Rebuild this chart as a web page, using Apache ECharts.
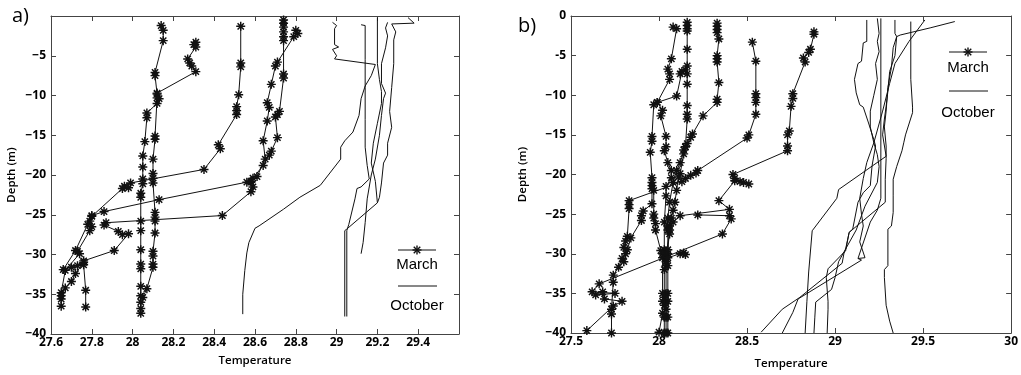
<!DOCTYPE html>
<html><head><meta charset="utf-8">
<script src="https://cdn.jsdelivr.net/npm/echarts@6/dist/echarts.min.js"></script>
<style>html,body{margin:0;padding:0;background:#fff}#c{width:1021px;height:375px}</style>
</head><body><div id="c"></div>
<script>
// ---------- Panel a : March profiles [temperature, depth] ----------
const marchA1 = [[28.14,-1.2],[28.15,-1.8],[28.15,-3.1],[28.11,-7.1],[28.11,-7.5],[28.12,-9.8],[28.13,-10.4],[28.12,-11.0],[28.07,-12.2],[28.07,-12.8],[28.06,-15.8],[28.05,-17.6],[28.05,-19.0],[28.05,-20.5],[28.05,-21.1],[28.04,-22.3],[28.04,-22.8],[28.04,-25.8],[28.04,-27.0],[28.04,-29.4],[28.04,-31.2],[28.04,-31.8],[28.04,-34.0],[28.04,-35.2],[28.04,-36.0],[28.04,-36.8],[28.04,-37.4]];
const marchA2 = [[28.31,-3.3],[28.30,-3.6],[28.31,-3.9],[28.27,-5.4],[28.28,-5.9],[28.29,-6.3],[28.31,-7.0],[28.12,-9.7],[28.12,-10.3],[28.11,-15.1],[28.11,-15.5],[28.10,-18.0],[28.10,-19.8],[28.10,-20.4],[28.10,-21.0],[28.11,-24.7],[28.11,-25.3],[28.11,-25.8],[28.11,-27.3],[28.10,-29.6],[28.10,-30.2],[28.10,-31.2],[28.10,-31.6],[28.07,-34.3],[28.05,-35.4]];
const marchA3 = [[28.53,-1.3],[28.53,-5.9],[28.53,-6.4],[28.52,-9.9],[28.51,-11.4],[28.51,-11.9],[28.51,-12.4],[28.42,-16.2],[28.43,-16.7],[28.35,-19.3],[27.99,-21.0],[27.96,-21.4],[27.98,-21.6],[27.95,-21.7],[27.80,-25.2],[27.79,-25.8],[27.80,-26.5],[27.79,-27.0],[27.73,-29.6],[27.74,-29.9],[27.67,-32.0],[27.65,-34.8],[27.65,-35.6],[27.65,-36.5]];
const marchA4 = [[28.74,-0.5],[28.74,-0.9],[28.74,-1.4],[28.74,-2.0],[28.74,-2.6],[28.74,-3.1],[28.74,-7.3],[28.74,-7.8],[28.72,-12.0],[28.71,-12.4],[28.70,-12.7],[28.71,-15.3],[28.68,-17.0],[28.67,-17.5],[28.64,-18.8],[28.59,-20.4],[28.58,-20.9],[28.59,-21.5],[28.58,-22.1],[28.44,-25.1],[27.87,-26.0],[27.86,-26.3],[27.93,-27.1],[27.95,-27.5],[27.98,-27.4],[27.91,-29.5],[27.76,-30.8],[27.76,-31.3],[27.77,-34.5],[27.77,-36.6]];
const marchA5 = [[28.80,-1.8],[28.81,-2.2],[28.79,-2.6],[28.71,-5.8],[28.70,-6.3],[28.68,-8.6],[28.66,-10.9],[28.67,-11.5],[28.66,-13.2],[28.64,-15.7],[28.65,-18.0],[28.61,-20.2],[28.58,-20.8],[28.56,-20.9],[28.13,-23.1],[27.86,-24.6],[27.80,-25.1],[27.78,-26.2],[27.72,-29.5],[27.66,-31.9],[27.70,-31.6],[27.73,-31.4],[27.76,-31.0],[27.72,-32.4],[27.70,-33.4],[27.67,-34.2],[27.65,-35.2]];
// ---------- Panel a : October profiles ----------
const octA1 = [[28.98,-0.8],[29.00,-1.2],[28.99,-1.6],[28.99,-3.6],[29.01,-3.9],[28.98,-4.2],[29.00,-5.0],[28.99,-5.4],[29.19,-6.1],[29.17,-7.5],[29.14,-8.8],[29.12,-10.4],[29.11,-12.5],[29.08,-14.6],[29.04,-15.7],[29.02,-16.5],[29.02,-18.0],[28.92,-21.3],[28.82,-22.8],[28.74,-24.3],[28.62,-26.4],[28.60,-26.7],[28.57,-28.5],[28.56,-29.8],[28.55,-32.0],[28.54,-35.0],[28.54,-37.5]];
const octA2 = [[29.12,-1.1],[29.14,-1.2],[29.14,-5.5],[29.14,-9.0],[29.14,-13.0],[29.14,-16.5],[29.15,-18.8],[29.16,-20.5],[29.12,-21.5],[29.10,-21.7],[29.09,-23.0],[29.06,-26.2],[29.05,-27.0],[29.05,-37.8]];
const octA3 = [[29.20,-0.2],[29.20,-6.0],[29.21,-8.0],[29.22,-9.5],[29.22,-11.0],[29.20,-13.5],[29.18,-16.0],[29.17,-18.5],[29.19,-20.8],[29.20,-23.5],[29.05,-26.8],[29.04,-27.0],[29.04,-37.8]];
const octA4 = [[29.25,-0.8],[29.24,-1.5],[29.25,-2.5],[29.24,-4.0],[29.22,-6.0],[29.22,-8.5],[29.24,-9.7],[29.23,-10.4],[29.22,-12.5],[29.21,-15.0],[29.19,-18.0],[29.17,-20.0],[29.15,-23.0],[29.14,-26.0],[29.13,-28.5],[29.12,-29.9]];
const octA5 = [[29.35,-0.2],[29.38,-0.9],[29.27,-1.0],[29.29,-2.0],[29.28,-3.0],[29.28,-6.0],[29.27,-9.0],[29.26,-12.0],[29.27,-14.0],[29.25,-16.0],[29.25,-17.5],[29.23,-18.5],[29.22,-21.0],[29.21,-22.8],[29.20,-23.5]];
// ---------- Panel b : March profiles ----------
const marchB1 = [[28.08,-1.4],[28.10,-1.6],[28.07,-5.4],[28.05,-6.7],[28.06,-7.3],[28.06,-8.0],[27.99,-10.9],[28.02,-11.9],[28.01,-12.6],[28.04,-15.2],[28.04,-16.5],[28.03,-17.0],[28.05,-18.5],[28.07,-19.5],[28.07,-20.4],[28.04,-21.5],[28.04,-22.7],[28.03,-26.0],[28.03,-29.5],[28.04,-30.5],[28.04,-31.5],[28.04,-35.0],[28.04,-36.0],[28.04,-37.0],[28.04,-38.0],[28.04,-40]];
const marchB2 = [[28.16,-0.8],[28.16,-1.2],[28.16,-1.6],[28.16,-1.9],[28.16,-4.2],[28.16,-6.3],[28.15,-6.8],[28.16,-7.3],[28.16,-8.6],[28.16,-11.3],[28.16,-12.4],[28.16,-13.0],[28.15,-16.5],[28.14,-16.9],[28.14,-17.4],[28.12,-19.9],[28.11,-20.3],[28.10,-22.0],[28.09,-23.5],[28.08,-24.5],[28.07,-25.5],[28.06,-26.5],[28.05,-27.0],[28.05,-30.0],[28.05,-31.5],[28.05,-35.0],[28.05,-36.0],[28.05,-38.0],[28.05,-40]];
const marchB3 = [[28.12,-7.3],[28.13,-7.0],[28.10,-10.1],[27.99,-10.9],[27.97,-11.2],[27.96,-15.2],[27.96,-15.8],[27.95,-17.2],[27.96,-20.4],[27.96,-21.0],[27.96,-21.4],[27.97,-22.0],[27.97,-25.0],[27.97,-25.5],[27.98,-26.2],[27.98,-27.0],[28.01,-29.6],[28.02,-30.0],[28.02,-30.5],[28.02,-35.0],[28.02,-36.0],[28.02,-37.5],[28.00,-39.9]];
const marchB4 = [[28.33,-0.9],[28.33,-1.3],[28.33,-1.7],[28.33,-2.1],[28.34,-2.9],[28.33,-5.0],[28.33,-5.4],[28.33,-5.8],[28.34,-8.4],[28.33,-10.5],[28.33,-10.9],[28.25,-12.6],[28.19,-14.9],[28.18,-15.3],[28.16,-16.1],[28.15,-16.5],[28.12,-18.5],[28.10,-19.5],[28.08,-21.0],[28.06,-23.5],[28.05,-25.5],[28.05,-26.5],[28.06,-27.5],[28.04,-30.0],[28.04,-31.0],[28.03,-32.0],[28.03,-35.5],[28.03,-36.5],[28.03,-38.0],[28.03,-40]];
const marchB5 = [[28.53,-3.3],[28.55,-5.7],[28.55,-9.8],[28.55,-10.3],[28.55,-10.9],[28.55,-12.4],[28.51,-15.0],[28.50,-15.4],[28.22,-19.5],[28.21,-19.8],[28.18,-20.1],[28.15,-20.5],[28.13,-20.9],[27.83,-23.3],[27.83,-23.8],[27.83,-24.3],[27.82,-27.8],[27.81,-28.4],[27.80,-29.2],[27.81,-30.0],[27.79,-30.6],[27.77,-31.7],[27.74,-32.7],[27.74,-33.6],[27.73,-37.0],[27.73,-37.6],[27.73,-40]];
const marchB6 = [[28.88,-2.0],[28.88,-2.3],[28.86,-4.2],[28.85,-4.6],[28.82,-5.3],[28.83,-5.8],[28.76,-9.8],[28.76,-10.4],[28.75,-11.4],[28.74,-14.5],[28.73,-15.0],[28.73,-16.4],[28.73,-17.0],[28.42,-20.0],[28.43,-20.5],[28.46,-20.9],[28.48,-21.0],[28.51,-21.2],[28.43,-20.8],[28.34,-23.3],[28.40,-24.4],[28.12,-25.2],[28.08,-26.0],[28.06,-27.0],[28.05,-29.5],[28.05,-30.5],[28.12,-30.0],[28.14,-29.9],[28.15,-30.1]];
const marchB7 = [[28.22,-25.1],[28.40,-25.2],[28.41,-25.6],[28.36,-27.5],[27.66,-33.8],[27.62,-34.8],[27.75,-35.0],[27.64,-35.2],[27.68,-34.8],[27.69,-35.7],[27.79,-36.0],[27.74,-36.6],[27.59,-39.7]];
const marchB8 = [[27.96,-21.8],[27.96,-23.7],[27.91,-24.6],[27.90,-25.2],[27.90,-25.8],[27.84,-28.0],[27.82,-29.5],[27.80,-31.0]];
// ---------- Panel b : October profiles ----------
const octB1 = [[29.18,-0.5],[29.18,-3.2],[29.16,-3.4],[29.15,-5.7],[29.13,-6.0],[29.11,-8.0],[29.12,-9.7],[29.14,-11.2],[29.16,-11.5],[29.19,-13.5],[29.22,-15.6],[29.23,-16.4],[29.21,-18.9],[29.20,-21.4],[29.16,-22.3],[29.13,-23.5],[29.10,-26.9],[29.08,-27.3],[29.06,-29.6],[28.96,-31.9],[28.95,-33.0],[28.96,-36.0],[28.96,-37.0],[28.955,-40]];
const octB2 = [[29.26,-0.3],[29.26,-23.0],[29.24,-24.5],[29.20,-26.0],[29.13,-30.6],[29.15,-30.8],[28.79,-35.7],[28.76,-37.4],[28.70,-40]];
const octB3 = [[29.24,-0.3],[29.25,-2.2],[29.24,-3.2],[29.25,-4.5],[29.23,-6.0],[29.24,-8.0],[29.22,-10.0],[29.20,-12.0],[29.20,-14.0],[29.22,-16.0],[29.24,-17.5],[29.25,-19.0],[29.24,-21.0],[29.17,-24.0],[29.12,-27.0],[29.02,-31.0],[29.00,-33.0],[28.98,-34.5],[28.89,-36.1],[28.885,-38.0],[28.88,-40]];
const octB4 = [[29.34,-0.5],[29.34,-2.2],[29.35,-2.6],[29.34,-5.0],[29.31,-7.0],[29.30,-9.5],[29.29,-11.4],[29.28,-13.0],[29.27,-15.0],[29.29,-17.7],[29.02,-21.9],[29.01,-23.0],[28.87,-27.1],[28.85,-32.3],[28.84,-36.0],[28.83,-40]];
const octB5 = [[29.43,-0.7],[29.43,-3.0],[29.43,-8.0],[29.44,-11.5],[29.44,-12.2],[29.40,-15.0],[29.39,-16.0],[29.38,-17.0],[29.35,-19.0],[29.33,-20.6],[29.33,-22.7],[29.33,-24.8],[29.32,-26.5],[29.30,-26.9],[29.30,-31.5],[29.28,-32.0],[29.28,-33.0],[29.29,-36.5],[29.31,-38.5],[29.33,-40]];
const octB6 = [[29.68,-0.7],[29.54,-1.5],[29.37,-2.4],[29.35,-2.6],[29.33,-4.0],[29.32,-6.5],[29.30,-9.0],[29.29,-12.0],[29.28,-14.0],[29.29,-16.4],[29.29,-18.0],[29.285,-20.6],[29.285,-23.5],[29.08,-27.3],[29.06,-29.4],[29.05,-30.0],[29.04,-31.2],[28.80,-35.5],[28.70,-37.0],[28.58,-39.9]];
const octB7 = [[29.51,-0.5],[29.42,-3.2],[29.34,-6.0],[29.31,-8.5],[29.27,-12.0],[29.22,-16.0],[29.18,-18.5],[29.16,-20.5],[29.14,-23.0],[29.15,-25.0],[29.16,-26.5],[29.14,-28.5],[29.17,-30.5],[29.13,-30.6]];

// ---------- tick values ----------
const xTicksA = [27.6, 27.8, 28, 28.2, 28.4, 28.6, 28.8, 29, 29.2, 29.4];
const xTicksB = [27.5, 28, 28.5, 29, 29.5, 30];
const yTicks = [0, -5, -10, -15, -20, -25, -30, -35, -40];

const marchA = [marchA1, marchA2, marchA3, marchA4, marchA5];
const octA = [octA1, octA2, octA3, octA4, octA5];
const marchB = [marchB1, marchB2, marchB3, marchB4, marchB5, marchB6, marchB7, marchB8];
const octB = [octB1, octB2, octB3, octB4, octB5, octB6, octB7];

const STAR = 'path://M0 4.2L10 4.2L10 5.8L0 5.8Z M4.2 0L5.8 0L5.8 10L4.2 10Z M0.93 2.07L2.07 0.93L9.07 7.93L7.93 9.07Z M7.93 0.93L9.07 2.07L2.07 9.07L0.93 7.93Z';
const AX = '#444';
const tickFont = {color:'#000', fontSize:12, fontFamily:'Open Sans', fontWeight:'bold'};
const nameFont = {color:'#000', fontSize:11.5, fontFamily:'Open Sans', fontWeight:600};

function fmt(v){ return String(+(+v).toFixed(2)); }

function xAx(grid, min, max, interval, bottom, nameGap, showMax){
  return {
    type:'value', gridIndex:grid, min:min, max:max, interval:interval,
    position: bottom ? 'bottom' : 'top',
    axisLine:{show:true, onZero:false, lineStyle:{color:AX, width:1}},
    axisTick:{show:true, inside:true, length:5, lineStyle:{color:AX}},
    axisLabel:{show:bottom, margin:3, showMaxLabel:showMax, showMinLabel:true,
      color:tickFont.color, fontSize:tickFont.fontSize, fontFamily:tickFont.fontFamily, fontWeight:tickFont.fontWeight, formatter:v=>fmt(v)},
    splitLine:{show:false},
    name: bottom ? 'Temperature' : '', nameLocation:'middle', nameGap:nameGap, nameTextStyle:nameFont
  };
}
function yAx(grid, left, labelFmt, showMax, nameGap){
  return {
    type:'value', gridIndex:grid, min:-40, max:0, interval:5,
    position: left ? 'left' : 'right',
    axisLine:{show:true, onZero:false, lineStyle:{color:AX, width:1}},
    axisTick:{show:true, inside:true, length:5, lineStyle:{color:AX}},
    axisLabel:{show:left, margin:5, showMaxLabel:showMax,
      color:tickFont.color, fontSize:tickFont.fontSize, fontFamily:tickFont.fontFamily, fontWeight:tickFont.fontWeight, formatter:labelFmt},
    splitLine:{show:false},
    name: left ? 'Depth (m)' : '', nameLocation:'middle', nameGap:nameGap, nameRotate:90, nameTextStyle:nameFont
  };
}
const fmtA = v => v===0 ? '0' : '\u2212' + Math.abs(v);
const fmtB = v => v===0 ? '0' : (v===-5 ? '-5' : '\u2212' + Math.abs(v));

const series = [];
function addSeries(list, xi, yi, star){
  list.forEach(d => series.push({
    type:'line', xAxisIndex:xi, yAxisIndex:yi, data:d,
    symbol: star ? STAR : 'none', symbolSize:9, showSymbol:star,
    lineStyle:{color:'#111', width:1}, itemStyle:{color:'#111'},
    silent:true, animation:false, clip:true
  }));
}
addSeries(octA, 0, 0, false);
addSeries(marchA, 0, 0, true);
addSeries(octB, 2, 2, false);
addSeries(marchB, 2, 2, true);

const legendFont = '15px "Liberation Sans", Arial, sans-serif';
function starLines(cx, cy, r){
  const d = r*0.72;
  return [[-r,0,r,0],[0,-r,0,r],[-d,-d,d,d],[-d,d,d,-d]].map(s=>({
    type:'line', shape:{x1:cx+s[0], y1:cy+s[1], x2:cx+s[2], y2:cy+s[3]}, style:{stroke:'#111', lineWidth:1.4}
  }));
}
function legend(cx, y1, y2, y3, y4){
  return [
    {type:'line', shape:{x1:cx-19, y1:y1, x2:cx+19, y2:y1}, style:{stroke:'#111', lineWidth:1}},
    ...starLines(cx, y1, 4.5),
    {type:'text', x:cx, y:y2, style:{text:'March', font:legendFont, fill:'#000', align:'center', verticalAlign:'middle'}},
    {type:'line', shape:{x1:cx-19, y1:y3, x2:cx+20, y2:y3}, style:{stroke:'#111', lineWidth:1}},
    {type:'text', x:cx, y:y4, style:{text:'October', font:legendFont, fill:'#000', align:'center', verticalAlign:'middle'}}
  ];
}

const option = {
  animation:false,
  backgroundColor:'#fff',
  grid:[
    {left:51, top:16, width:408, height:318},
    {left:571, top:16, width:442, height:318}
  ],
  xAxis:[
    xAx(0, 27.6, 29.6, 0.2, true, 21, false),
    xAx(0, 27.6, 29.6, 0.2, false, 0, false),
    xAx(1, 27.5, 30, 0.5, true, 25, true),
    xAx(1, 27.5, 30, 0.5, false, 0, true)
  ],
  yAxis:[
    yAx(0, true, fmtA, false, 33),
    yAx(0, false, fmtA, false, 0),
    yAx(1, true, fmtB, true, 42),
    yAx(1, false, fmtB, true, 0)
  ],
  series: series,
  graphic:[
    {type:'text', x:12, y:16, style:{text:'a)', font:'20px "Open Sans"', fill:'#000', verticalAlign:'middle'}},
    {type:'text', x:518, y:26, style:{text:'b)', font:'20px "Open Sans"', fill:'#000', verticalAlign:'middle'}},
    ...legend(417, 250, 265, 286, 306),
    ...legend(968, 52, 68, 91, 113)
  ]
};
const chart = echarts.init(document.getElementById('c'));
chart.setOption(option);
</script></body></html>
